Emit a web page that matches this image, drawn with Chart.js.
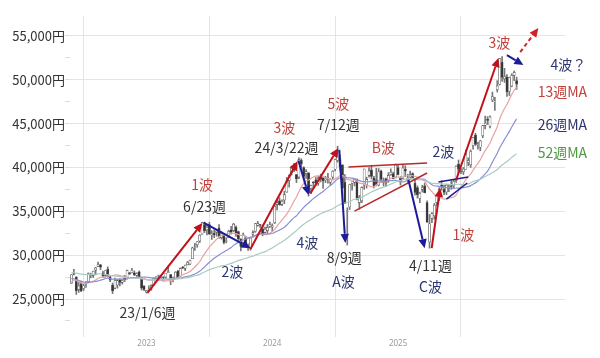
<!DOCTYPE html>
<html><head><meta charset="utf-8">
<script src="https://cdn.jsdelivr.net/npm/chart.js@4.4.1/dist/chart.umd.min.js"></script>
<style>html,body{margin:0;padding:0;background:#fff}#wrap{width:600px;height:358px;position:relative}</style>
</head><body><div id="wrap"><canvas id="c"></canvas></div>
<script>
// ---- weekly categories (week ending dates) ----
const weeks = [
'2022-06-03','2022-06-10','2022-06-17','2022-06-24','2022-07-01','2022-07-08','2022-07-15','2022-07-22','2022-07-29','2022-08-05','2022-08-12','2022-08-19','2022-08-26','2022-09-02','2022-09-09','2022-09-16','2022-09-23','2022-09-30','2022-10-07','2022-10-14','2022-10-21','2022-10-28','2022-11-04','2022-11-11','2022-11-18','2022-11-25','2022-12-02','2022-12-09','2022-12-16','2022-12-23','2022-12-30',
'2023-01-06','2023-01-13','2023-01-20','2023-01-27','2023-02-03','2023-02-10','2023-02-17','2023-02-24','2023-03-03','2023-03-10','2023-03-17','2023-03-24','2023-03-31','2023-04-07','2023-04-14','2023-04-21','2023-04-28','2023-05-05','2023-05-12','2023-05-19','2023-05-26','2023-06-02','2023-06-09','2023-06-16','2023-06-23','2023-06-30','2023-07-07','2023-07-14','2023-07-21','2023-07-28','2023-08-04','2023-08-11','2023-08-18','2023-08-25','2023-09-01','2023-09-08','2023-09-15','2023-09-22','2023-09-29','2023-10-06','2023-10-13','2023-10-20','2023-10-27','2023-11-03','2023-11-10','2023-11-17','2023-11-24','2023-12-01','2023-12-08','2023-12-15','2023-12-22','2023-12-29',
'2024-01-05','2024-01-12','2024-01-19','2024-01-26','2024-02-02','2024-02-09','2024-02-16','2024-02-23','2024-03-01','2024-03-08','2024-03-15','2024-03-22','2024-03-29','2024-04-05','2024-04-12','2024-04-19','2024-04-26','2024-05-03','2024-05-10','2024-05-17','2024-05-24','2024-05-31','2024-06-07','2024-06-14','2024-06-21','2024-06-28','2024-07-05','2024-07-12','2024-07-19','2024-07-26','2024-08-02','2024-08-09','2024-08-16','2024-08-23','2024-08-30','2024-09-06','2024-09-13','2024-09-20','2024-09-27','2024-10-04','2024-10-11','2024-10-18','2024-10-25','2024-11-01','2024-11-08','2024-11-15','2024-11-22','2024-11-29','2024-12-06','2024-12-13','2024-12-20','2024-12-27',
'2025-01-10','2025-01-17','2025-01-24','2025-01-31','2025-02-07','2025-02-14','2025-02-21','2025-02-28','2025-03-07','2025-03-14','2025-03-21','2025-03-28','2025-04-04','2025-04-11','2025-04-18','2025-04-25','2025-05-02','2025-05-09','2025-05-16','2025-05-23','2025-05-30','2025-06-06','2025-06-13','2025-06-20','2025-06-27','2025-07-04','2025-07-11','2025-07-18','2025-07-25','2025-08-01','2025-08-08','2025-08-15','2025-08-22','2025-08-29','2025-09-05','2025-09-12','2025-09-19','2025-09-26','2025-10-03','2025-10-10','2025-10-17','2025-10-24','2025-10-31','2025-11-07','2025-11-14','2025-11-21','2025-11-28','2025-12-05','2025-12-12','2025-12-19'
];
const open = [
26820,27900,27500,26100,26750,26200,26900,27000,27800,27700,28300,28700,28900,28000,27700,28400,27500,26600,26250,26600,27200,26900,27500,27400,28000,28000,28000,27700,28100,27400,26500,
25800,26100,26200,26600,27300,27600,27500,27500,27500,28000,27800,27200,27400,28200,27600,28600,28500,28900,29000,29600,30900,31200,31600,32400,33500,32900,33500,32300,32500,32600,33100,32000,32200,31600,32000,32900,32800,33200,32700,31800,31400,31900,31000,30800,32400,32700,33400,33500,33000,32600,32800,33300,
33200,33700,35800,36200,35800,36300,37200,38500,39400,40100,39200,38900,40800,40000,39300,39400,37600,38300,38600,38200,38900,38900,38600,38900,38300,38900,39800,40800,40900,40300,38300,35000,35500,38200,38300,38500,36000,36200,38000,38000,39100,39700,38800,38600,38000,39600,38500,38700,38500,39200,39300,38900,
40000,38800,38800,39800,38600,38900,39300,38200,37700,36500,37500,37900,36000,31500,34200,34500,36000,36600,38000,37500,37200,37600,37900,37900,38500,40400,39600,39500,39800,40600,40300,42500,43700,42600,42300,43600,44800,45500,44700,47700,47500,48900,49500,52000,50100,50300,48700,49300,50500,49900
];
const high = [
27800,28390,27550,26890,27060,26680,27000,27980,27950,28180,28610,29222,28950,28200,28250,28670,27710,26820,27400,27250,27300,27250,27700,28300,28030,28500,28200,28000,28200,27430,26500,
26000,26500,26620,27440,27550,27740,27700,27550,27930,28730,27800,27500,28130,28280,28550,28720,28880,29280,29430,30920,31350,31560,32340,33710,33772,33530,33760,32790,32900,32890,33490,32680,32300,32000,32850,33300,33630,33340,32750,31890,32530,32100,31280,32000,32770,33630,33850,33530,33450,33200,33500,33770,
33570,35840,36240,36550,36300,37290,38870,39160,40000,40470,39200,41087,41000,40080,39770,39400,38000,38400,38860,39000,39240,38940,39000,39340,38710,39630,40960,42426,41400,40300,39190,35400,38100,38360,38700,38700,36800,37800,39830,38900,40000,40250,38990,39900,39880,39700,38800,38800,39400,39850,39470,40400,
40290,38960,40280,40200,39230,39600,39400,38700,37900,37200,37970,38220,36200,34640,34850,35900,36900,37700,38500,37950,38100,38000,38500,38550,40200,40850,39900,40000,42000,41100,42000,43450,43900,42900,43100,44800,45850,45800,45900,48600,48000,49900,52400,52636,51300,50600,50300,50700,51000,50300
];
const low = [
26780,27750,25520,25750,25840,25970,26320,26890,27420,27450,27750,28680,28330,27510,27550,27500,26990,25620,26150,26240,26500,26700,26990,27260,27790,27970,27660,27570,27520,26020,25960,
25661,25830,25990,26560,27150,27230,27390,27050,27350,28000,26630,26950,27380,27430,27580,28450,28240,28890,28930,29600,30550,30900,31440,32400,32575,32300,32390,31790,32000,32150,31900,31830,31270,31400,31990,32400,32680,32150,31670,30490,31300,31000,30540,30570,32150,32600,33300,33160,32200,32500,32550,33150,
32700,33600,35170,35700,35650,35870,37160,37760,39120,39520,38270,38730,40000,38770,38750,36733,37000,37650,37950,37960,38360,37620,38280,38220,38050,38650,39620,40600,39700,37610,35880,31156,35200,37400,37900,36300,35250,35990,37500,37650,38900,38700,37660,37900,37900,38300,37900,37800,38300,39100,38700,38800,
39150,38000,38700,38950,38300,38700,38700,36850,36500,35990,37200,37100,33700,30792,33700,34100,35600,36200,37400,36900,36900,37250,37500,37700,38300,39500,39300,39200,39800,40200,40000,42100,42500,42100,41900,43400,44400,44900,44500,47500,46500,48600,49400,49800,49700,48100,48200,49200,49900,48900
];
const close = [
27761,27824,25963,26491,25935,26517,26788,27915,27801,28175,28546,28930,28641,27650,28214,27567,27153,25937,27116,27090,26890,27105,27199,28263,27899,28283,27777,27901,27527,26235,26094,
25973,26119,26553,27382,27509,27670,27513,27453,27927,28143,27333,27385,28041,27518,28493,28564,28856,29157,29388,30808,30916,31524,32265,33706,32781,33189,32388,32391,32304,32759,32193,32473,31450,31624,32710,32606,33533,32402,31857,30994,32315,31259,30991,31950,32568,33585,33625,33431,32307,32970,33169,33464,
33377,35577,35963,35751,36158,36897,38487,39098,39910,39688,38707,40888,40369,38992,39523,37068,37934,38236,38229,38787,38646,38487,38683,38814,38596,39583,40912,41190,40063,37667,35909,35025,38062,38364,38647,36391,36581,37723,39829,38635,39605,38981,37913,38053,39500,38642,38283,38208,39091,39470,38701,40281,
39190,38451,39931,39572,38787,39149,38776,37155,36887,37053,37677,37120,33780,33585,34730,35705,36830,37503,37753,37160,37965,37741,37834,38403,40150,39811,39570,39819,41456,40800,41820,43378,42633,42718,43018,44768,45045,45355,45769,48088,47582,49299,52411,50276,50376,48625,50253,50491,50836,49507
];
// weekly closes before the first shown week (Jun 2021 - May 2022), used to start the moving averages
const priorCloses = [
28949,28964,29066,28783,27940,28003,27548,27283,27820,27977,27013,27641,29128,30381,30500,30248,28771,28048,29068,28804,28892,29611,29609,29745,28751,28029,28437,28545,28782,28791,
28478,28124,27522,26717,27439,27696,27122,26476,25985,25162,26827,28149,27665,26985,27093,27105,26847,27003,26427,26739,26781
];
const maPeriods = [13, 26, 52];
const maNames = ['13週MA', '26週MA', '52週MA'];
const xTickLabels = ['2023', '2024', '2025'];
const yTickValues = [22500,25000,27500,30000,32500,35000,37500,40000,42500,45000,47500,50000,52500,55000];

// ---- annotations (positions in week-index / price units) ----
const waveArrows = [
  {from:[31.4,25700], to:[54.1,33670], kind:'up'},
  {from:[54.6,33700], to:[74.0,30800], kind:'down'},
  {from:[74.0,30700], to:[93.4,40700], kind:'up'},
  {from:[93.8,40800], to:[98.0,36860], kind:'down'},
  {from:[98.8,37070], to:[110.3,42200], kind:'up'},
  {from:[110.7,42000], to:[113.2,31400], kind:'down'},
  {from:[139.3,38570], to:[146.0,30800], kind:'down'},
  {from:[148.9,30800], to:[152.4,37660], kind:'up'},
  {from:[159.0,38570], to:[176.5,52480], kind:'up'},
  {from:[180.0,52820], to:[186.8,51680], kind:'down'},
  {from:[185.5,53160], to:[193.0,55900], kind:'dashed'}
];
const trendLines = [
  {from:[114.5,40050], to:[147.0,40500], kind:'up'},
  {from:[117.0,35030], to:[147.0,39370], kind:'up'},
  {from:[151.7,38340], to:[164.0,38910], kind:'down'},
  {from:[155.0,36400], to:[163.6,38230], kind:'down'}
];
const textLabels = [
  {t:'23/1/6週', x:31.4, y:23400, c:'date'},
  {t:'1波', x:54.0, y:38000, c:'red'},
  {t:'6/23週', x:55.0, y:35490, c:'date'},
  {t:'2波', x:66.5, y:28080, c:'blue'},
  {t:'3波', x:88.0, y:44500, c:'red'},
  {t:'24/3/22週', x:88.9, y:42220, c:'date'},
  {t:'4波', x:97.5, y:31390, c:'blue'},
  {t:'5波', x:110.3, y:47230, c:'red'},
  {t:'7/12週', x:110.3, y:44840, c:'date'},
  {t:'8/9週', x:112.8, y:29680, c:'date'},
  {t:'A波', x:112.4, y:26940, c:'blue'},
  {t:'B波', x:128.9, y:42220, c:'red'},
  {t:'2波', x:153.7, y:41760, c:'blue'},
  {t:'1波', x:162.0, y:32300, c:'red'},
  {t:'4/11週', x:148.4, y:28760, c:'date'},
  {t:'C波', x:148.4, y:26370, c:'blue'},
  {t:'3波', x:176.9, y:54190, c:'red'},
  {t:'4波？', x:205.4, y:51680, c:'blue'},
  {t:maNames[0], x:202.9, y:48600, c:'red'},
  {t:maNames[1], x:202.9, y:44840, c:'blue'},
  {t:maNames[2], x:202.9, y:41650, c:'green'}
];

// ---- styles ----
const COL = {date:'#333333', red:'#c0403a', blue:'#2c3570', green:'#4e9a3e'};
const ARROW = {up:'#c0101a', down:'#1c1c9a', dashed:'#d0202a'};
const LINE = {up:'#b82a2a', down:'#1c1c8a'};
const MA_COLORS = ['#e8a2a2', '#8a90d2', '#a9cbc2'];

// ---- build datasets ----
const allCloses = priorCloses.concat(close);
const off = priorCloses.length;
function sma(period) {
  return close.map((_, i) => {
    let s = 0;
    for (let k = 0; k < period; k++) s += allCloses[off + i - k];
    return {x: i, y: s / period};
  });
}
const wickData = weeks.map((_, i) => ({x: i, y: [low[i], high[i]]}));
const bodyData = weeks.map((_, i) => ({x: i, y: [open[i], close[i]]}));
const yearIdx = xTickLabels.map(y => weeks.findIndex(d => d.startsWith(y)));

const datasets = [
  {type:'bar', data: wickData, backgroundColor:'#777', barThickness:1, grouped:false, order:6},
  {type:'bar', data: bodyData, grouped:false, order:5, barThickness:2.2,
   backgroundColor: ctx => (close[ctx.dataIndex] >= open[ctx.dataIndex] ? '#ffffff' : '#333333'),
   borderColor:'#555', borderWidth:0.6, borderSkipped:false}
];
maPeriods.forEach((p, k) => datasets.push({
  type:'line', data: sma(p), borderColor: MA_COLORS[k], borderWidth:1.2, pointRadius:0, tension:0.2, order:3 - k
}));

function toPx(chart, p) { return [chart.scales.x.getPixelForValue(p[0]), chart.scales.y.getPixelForValue(p[1])]; }
function drawArrow(ctx, a, b, color, dashed) {
  const [x0, y0] = a, [x1, y1] = b;
  const ang = Math.atan2(y1 - y0, x1 - x0), hl = 9, hw = 4.2;
  const bx = x1 - hl * Math.cos(ang), by = y1 - hl * Math.sin(ang);
  ctx.save();
  ctx.strokeStyle = color; ctx.fillStyle = color; ctx.lineWidth = 2;
  if (dashed) ctx.setLineDash([4, 3]);
  ctx.beginPath(); ctx.moveTo(x0, y0); ctx.lineTo(bx, by); ctx.stroke();
  ctx.setLineDash([]);
  ctx.beginPath(); ctx.moveTo(x1, y1);
  ctx.lineTo(bx + hw * Math.sin(ang), by - hw * Math.cos(ang));
  ctx.lineTo(bx - hw * Math.sin(ang), by + hw * Math.cos(ang));
  ctx.closePath(); ctx.fill();
  ctx.restore();
}
const annotate = {
  id:'annotate',
  afterDatasetsDraw(chart) {
    const ctx = chart.ctx;
    trendLines.forEach(l => {
      const a = toPx(chart, l.from), b = toPx(chart, l.to);
      ctx.save(); ctx.strokeStyle = LINE[l.kind]; ctx.lineWidth = 1.5;
      ctx.beginPath(); ctx.moveTo(a[0], a[1]); ctx.lineTo(b[0], b[1]); ctx.stroke(); ctx.restore();
    });
    waveArrows.forEach(w => drawArrow(ctx, toPx(chart, w.from), toPx(chart, w.to), ARROW[w.kind], w.kind === 'dashed'));
    ctx.save();
    ctx.font = '14px "Noto Sans CJK JP", "Noto Sans", sans-serif';
    ctx.textAlign = 'center'; ctx.textBaseline = 'middle';
    textLabels.forEach(t => {
      const p = toPx(chart, [t.x, t.y]);
      ctx.fillStyle = COL[t.c]; ctx.fillText(t.t, p[0], p[1]);
    });
    ctx.restore();
  }
};

new Chart(document.getElementById('c'), {
  type:'bar',
  data:{datasets},
  options:{
    responsive:true, maintainAspectRatio:false, animation:false,
    layout:{padding:{left:0, right:35, top:16, bottom:0}},
    plugins:{legend:{display:false}, tooltip:{enabled:false}},
    scales:{
      x:{type:'linear', min:-0.6, max:204, offset:false,
        border:{display:false},
        grid:{color:'#e4e4e4', drawTicks:false},
        afterBuildTicks: s => { s.ticks = yearIdx.map(v => ({value:v})); },
        afterFit: s => { s.height = 21; },
        ticks:{padding:2, color:'#9a9a9a', font:{size:8, family:'"Noto Sans", sans-serif'},
          callback:(v, i) => xTickLabels[i]}
      },
      y:{min:20670, max:57270,
        border:{display:false},
        grid:{color: c => (c.tick && c.tick.value % 5000 === 0 ? '#e4e4e4' : 'rgba(0,0,0,0)'),
              tickColor:'#dddddd', tickLength:5},
        afterBuildTicks: s => { s.ticks = yTickValues.map(v => ({value:v})); },
        afterFit: s => { s.width = 70; },
        ticks:{padding:0, color:'#333', font:{size:13, family:'"Noto Sans CJK JP", sans-serif'},
          callback: v => (v % 5000 === 0 ? v.toLocaleString('en-US') + '円' : '')}
      }
    }
  },
  plugins:[annotate]
});
</script>
</body></html>
